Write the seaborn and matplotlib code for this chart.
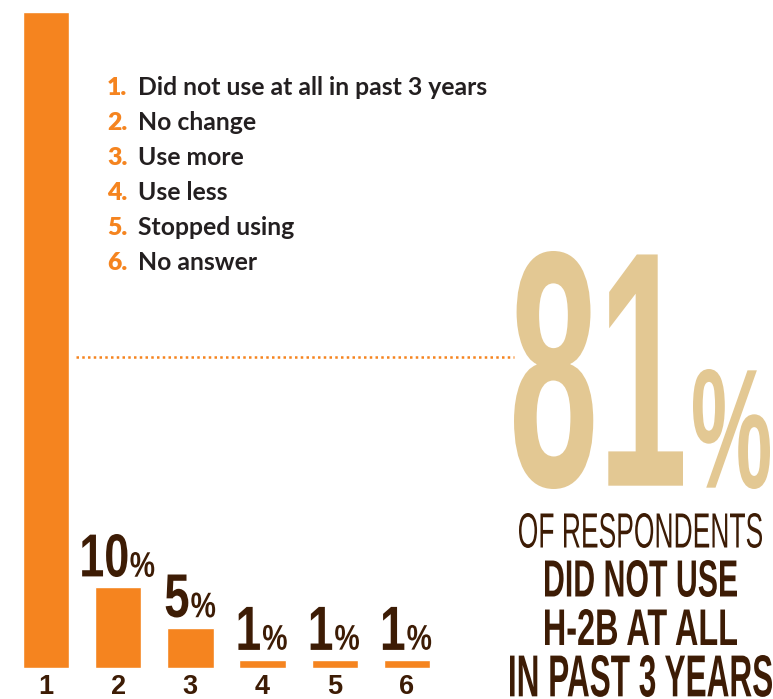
import matplotlib
matplotlib.use("Agg")
import matplotlib.pyplot as plt
import matplotlib.patheffects as pe
from matplotlib.transforms import Affine2D
from matplotlib.textpath import TextPath
from matplotlib.font_manager import FontProperties, fontManager
import seaborn as sns

# Data #
categories = ["1", "2", "3", "4", "5", "6"]
answers = ["Did not use at all in past 3 years", "No change", "Use more",
           "Use less", "Stopped using", "No answer"]
shares = [81, 10, 5, 1, 1, 1]
headline = "81"
subtitle = ["OF RESPONDENTS", "DID NOT USE", "H-2B AT ALL", "IN PAST 3 YEARS"]

ORANGE = "#f5841f"
TAN = "#e3c893"
BROWN = "#3d1c05"
INK = "#231f20"

W, H, DPI = 773, 699, 100

installed = {f.name for f in fontManager.ttflist}
NARROW = "Liberation Sans Narrow" if "Liberation Sans Narrow" in installed else "Liberation Sans"
LEGEND_FONT = "Lato" if "Lato" in installed else "DejaVu Sans"


class Stretch(pe.AbstractPathEffect):
    # make a text taller around its baseline (poster style condensed look)
    def __init__(self, sy, offset=(0.0, 0.0)):
        super().__init__(offset)
        self.sy = sy

    def draw_path(self, renderer, gc, tpath, affine, rgbFace=None):
        t = Affine2D().scale(1, self.sy) + affine + self._offset_transform(renderer)
        renderer.draw_path(gc, tpath, t, rgbFace)


# pixel coords measured from the top-left corner
px = Affine2D().scale(1, -1).translate(0, H)
PT = DPI / 72 / 100  # px per TextPath unit at size 100 -> per point


def ink(s, fp):
    return TextPath((0, 0), s, size=100, prop=fp).get_extents()


def box_text(s, left, top, right, bottom, color, weight="bold", lift=0):
    fp = FontProperties(family=NARROW, weight=weight)
    e = ink(s, fp)
    fs = (right - left) / (e.width * PT)
    u = fs * PT
    sy = (bottom - top) / (e.height * u)
    fp.set_size(fs)
    # lift: anchor sits higher, glyphs are drawn back down (keeps the box on the canvas)
    fig.text(left - e.x0 * u, bottom + e.y0 * u * sy - lift, s, transform=px,
             ha="left", va="baseline", fontproperties=fp, color=color,
             path_effects=[Stretch(sy, offset=(0, -lift * 72 / DPI))])


def width_for(s, height, ratio, weight="bold"):
    # ink width of s when drawn at a given ink height, condensed by ratio
    e = ink(s, FontProperties(family=NARROW, weight=weight))
    return e.width / e.height * height * ratio


sns.set_theme(style="white")
fig = plt.figure(figsize=(W / DPI, H / DPI), dpi=DPI)
fig.patch.set_facecolor("white")
ax = fig.add_axes([0, 31 / H, 1, 668 / H])

sns.barplot(x=categories, y=shares, color=ORANGE, saturation=1, width=0.64, ax=ax)
ax.set_xlim(-46 / 72.2, (W - 46) / 72.2)
ax.set_ylim(0, 668 / (656 / 81))
sns.despine(ax=ax, left=True, bottom=True)
ax.set_yticks([])
ax.set_xlabel("")
ax.set_ylabel("")
ax.tick_params(axis="x", length=0, pad=4.0)
tick_fp = FontProperties(family=NARROW, weight="bold", size=19.5)
for lab in ax.get_xticklabels():
    lab.set_fontproperties(tick_fp)
    lab.set_color(BROWN)

# dotted leader from the legend to the headline
ax.hlines(38.4, 0.416, 6.48, colors=ORANGE, linewidth=1.8, linestyles=(0, (1, 1.3)))

# value labels above bars 2..6, big number + small percent sign
GAP = 3
for i, v in enumerate(shares):
    if i == 0:
        continue
    cx, cy = ax.transData.transform((i, v))
    base = H - cy - 10
    num = str(v)
    wn = width_for(num, 43, 0.74)
    wp = width_for("%", 25, 0.8)
    left = cx - (wn + GAP + wp) / 2
    box_text(num, left, base - 43, left + wn, base, BROWN)
    box_text("%", left + wn + GAP, base - 25, left + wn + GAP + wp, base, BROWN)

# legend list
for k, (cat, ans) in enumerate(zip(categories, answers)):
    y = 95 + 35 * k
    fig.text(107, y, f"{cat}.", transform=px, ha="left", va="baseline",
             family=LEGEND_FONT, weight="heavy", fontsize=17.8, color=ORANGE)
    fig.text(138, y, ans, transform=px, ha="left", va="baseline",
             family=LEGEND_FONT, weight="bold", fontsize=17.8, color=INK)

# headline
box_text(headline, 514, 251, 683, 489, TAN)
box_text("%", 693, 369, 770, 489, TAN)
box_text(subtitle[0], 519, 513, 762, 548, BROWN, weight="normal")
box_text(subtitle[1], 545, 560, 737, 597, BROWN)
box_text(subtitle[2], 545, 609, 737, 645, BROWN)
box_text(subtitle[3], 510, 655, 772, 697, BROWN, lift=10)

fig.savefig("out.png", dpi=DPI)
